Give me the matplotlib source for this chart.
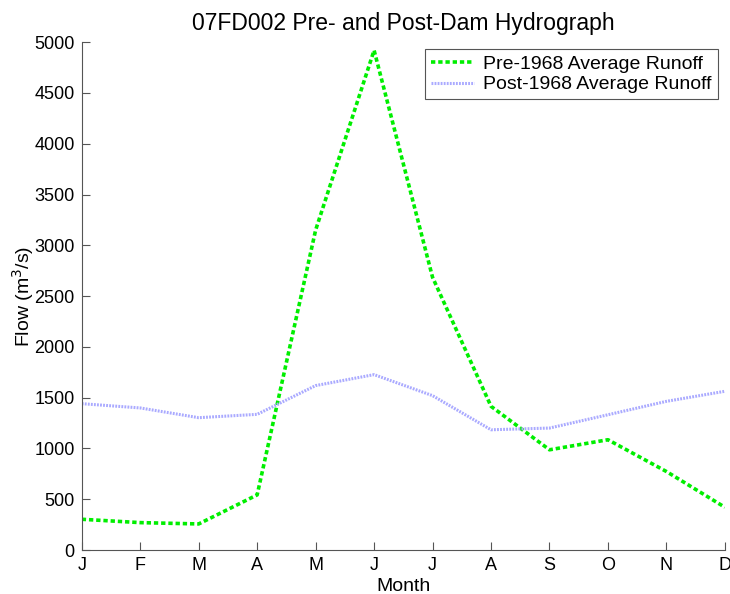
import matplotlib
matplotlib.use("Agg")
import matplotlib.pyplot as plt

months = ["J", "F", "M", "A", "M", "J", "J", "A", "S", "O", "N", "D"]
pre_dam = [303, 270, 257, 543, 3150, 4920, 2685, 1415, 987, 1086, 773, 421]
post_dam = [1441, 1399, 1303, 1336, 1619, 1727, 1520, 1184, 1201, 1332, 1464, 1563]

plt.rcParams["font.family"] = ["Liberation Sans", "DejaVu Sans"]

fig = plt.figure(figsize=(7.3, 5.94), dpi=100)
ax = fig.add_axes([0.112, 0.074, 0.881, 0.855])

x = list(range(1, len(months) + 1))
ax.plot(x, pre_dam, color="#00ee00", linestyle=(0, (1.2, 0.8)), linewidth=2.6,
        label="Pre-1968 Average Runoff")
ax.plot(x, post_dam, color="#aaaaff", linestyle=(0, (0.6, 0.4)), linewidth=2.2,
        label="Post-1968 Average Runoff")

ax.set_xlim(1, 12)
ax.set_ylim(0, 5000)
ax.set_xticks(x)
ax.set_xticklabels(months)
ax.set_yticks(range(0, 5001, 500))

for side in ("top", "right"):
    ax.spines[side].set_visible(False)
for side in ("left", "bottom"):
    ax.spines[side].set_color("#555555")
ax.tick_params(direction="in", length=6, colors="#555555", labelcolor="black",
               labelsize=13, pad=5)

ax.set_title("07FD002 Pre- and Post-Dam Hydrograph", fontsize=16.5, pad=9)
ax.set_xlabel("Month", fontsize=14, labelpad=3)
ax.set_ylabel("Flow (m$^3$/s)", fontsize=14, labelpad=-1)

leg = ax.legend(loc="upper right", fontsize=14, fancybox=False, framealpha=1,
                edgecolor="#555555", handlelength=2.2, borderpad=0.3,
                labelspacing=0.15, handletextpad=0.5,
                bbox_to_anchor=(1.004, 1.005))
leg.get_frame().set_linewidth(0.8)

fig.savefig("out.png", dpi=100)
